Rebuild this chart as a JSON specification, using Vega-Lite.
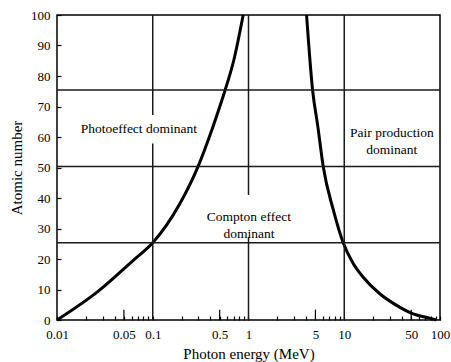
{
  "$schema": "https://vega.github.io/schema/vega-lite/v6.json",
  "width": 383,
  "height": 305,
  "autosize": {"type": "none"},
  "padding": {"left": 57, "top": 15, "right": 11, "bottom": 42},
  "background": "white",
  "config": {
    "view": {"stroke": "black", "strokeWidth": 1.5},
    "font": "Liberation Serif",
    "axis": {
      "labelFont": "Liberation Serif",
      "titleFont": "Liberation Serif",
      "labelFontSize": 13,
      "titleFontSize": 15,
      "titleFontWeight": "normal",
      "labelColor": "black",
      "titleColor": "black",
      "tickColor": "black",
      "tickWidth": 1.2,
      "domain": false,
      "grid": false,
      "labelOverlap": false,
      "labelSeparation": 0
    },
    "axisY": {"labelOverlap": false, "labelFlush": false}
  },
  "datasets": {
    "curves": [
      {"curve": "photo", "energy": 0.01, "z": 0},
      {"curve": "photo", "energy": 0.0268, "z": 9.4},
      {"curve": "photo", "energy": 0.0622, "z": 19.5},
      {"curve": "photo", "energy": 0.1, "z": 25.3},
      {"curve": "photo", "energy": 0.191, "z": 38},
      {"curve": "photo", "energy": 0.297, "z": 50.3},
      {"curve": "photo", "energy": 0.42, "z": 62.9},
      {"curve": "photo", "energy": 0.57, "z": 75.4},
      {"curve": "photo", "energy": 0.7, "z": 85},
      {"curve": "photo", "energy": 0.88, "z": 100},
      {"curve": "pair", "energy": 4.04, "z": 100},
      {"curve": "pair", "energy": 4.67, "z": 75.4},
      {"curve": "pair", "energy": 5.3, "z": 63.4},
      {"curve": "pair", "energy": 6.03, "z": 50.3},
      {"curve": "pair", "energy": 7.7, "z": 36},
      {"curve": "pair", "energy": 9.75, "z": 25.3},
      {"curve": "pair", "energy": 12.4, "z": 18.5},
      {"curve": "pair", "energy": 15.7, "z": 14.1},
      {"curve": "pair", "energy": 23.5, "z": 8.6},
      {"curve": "pair", "energy": 35.2, "z": 4.8},
      {"curve": "pair", "energy": 52.5, "z": 2.0},
      {"curve": "pair", "energy": 78, "z": 0.6},
      {"curve": "pair", "energy": 91, "z": 0}
    ],
    "hlines": [{"z": 25.3}, {"z": 50.3}, {"z": 75.4}],
    "vlines": [
      {"energy": 0.1, "z": 0, "z_end": 57.9},
      {"energy": 0.1, "z": 67.2, "z_end": 100},
      {"energy": 1, "z": 0, "z_end": 27.2},
      {"energy": 1, "z": 41, "z_end": 100},
      {"energy": 10, "z": 0, "z_end": 100}
    ],
    "midticks": [{"energy": 0.05}, {"energy": 0.5}, {"energy": 5}, {"energy": 50}],
    "labels": [
      {"energy": 0.0715, "z": 62.5, "text": "Photoeffect dominant"},
      {"energy": 1.01, "z": 33.9, "text": "Compton effect\ndominant"},
      {"energy": 31.4, "z": 61.4, "text": "Pair production\ndominant"}
    ]
  },
  "layer": [
    {
      "data": {"name": "curves"},
      "mark": {"type": "line", "stroke": "black", "strokeWidth": 3, "interpolate": "monotone"},
      "encoding": {
        "x": {
          "field": "energy", "type": "quantitative",
          "scale": {"type": "log", "domain": [0.01, 100], "nice": false},
          "axis": {
            "title": "Photon energy (MeV)",
            "values": [0.01, 0.02, 0.03, 0.04, 0.05, 0.06, 0.07, 0.08, 0.09, 0.1, 0.2, 0.3, 0.4, 0.5, 0.6, 0.7, 0.8, 0.9, 1, 2, 3, 4, 5, 6, 7, 8, 9, 10, 20, 30, 40, 50, 60, 70, 80, 90, 100],
            "labelExpr": "indexof([0.01, 0.05, 0.1, 0.5, 1, 5, 10, 50, 100], datum.value) >= 0 ? '' + datum.value : ''",
            "tickSize": -4,
            "labelOverlap": false,
            "labelFlush": false,
            "labelPadding": 12,
            "titlePadding": 5
          }
        },
        "y": {
          "field": "z", "type": "quantitative",
          "scale": {"domain": [0, 100], "nice": false},
          "axis": {
            "title": "Atomic number",
            "values": [0, 10, 20, 30, 40, 50, 60, 70, 80, 90, 100],
            "tickCount": 11,
            "tickSize": -4,
            "labelPadding": 11,
            "titlePadding": 6,
            "labelOverlap": false,
            "labelFlush": false
          }
        },
        "detail": {"field": "curve"}
      }
    },
    {
      "data": {"name": "hlines"},
      "mark": {"type": "rule", "stroke": "#1a1a1a", "strokeWidth": 1.5},
      "encoding": {
        "y": {"field": "z", "type": "quantitative"}
      }
    },
    {
      "data": {"name": "vlines"},
      "mark": {"type": "rule", "stroke": "#1a1a1a", "strokeWidth": 1.5},
      "encoding": {
        "x": {"field": "energy", "type": "quantitative"},
        "y": {"field": "z", "type": "quantitative"},
        "y2": {"field": "z_end"}
      }
    },
    {
      "data": {"name": "midticks"},
      "mark": {"type": "rule", "stroke": "black", "strokeWidth": 1.2},
      "encoding": {
        "x": {"field": "energy", "type": "quantitative"},
        "y": {"datum": 0},
        "y2": {"datum": 3.4}
      }
    },
    {
      "data": {"name": "labels"},
      "mark": {"type": "text", "font": "Liberation Serif", "fontSize": 13.5, "color": "black", "align": "center", "baseline": "middle", "lineBreak": "\n", "lineHeight": 17},
      "encoding": {
        "x": {"field": "energy", "type": "quantitative"},
        "y": {"field": "z", "type": "quantitative"},
        "text": {"field": "text"}
      }
    }
  ]
}
